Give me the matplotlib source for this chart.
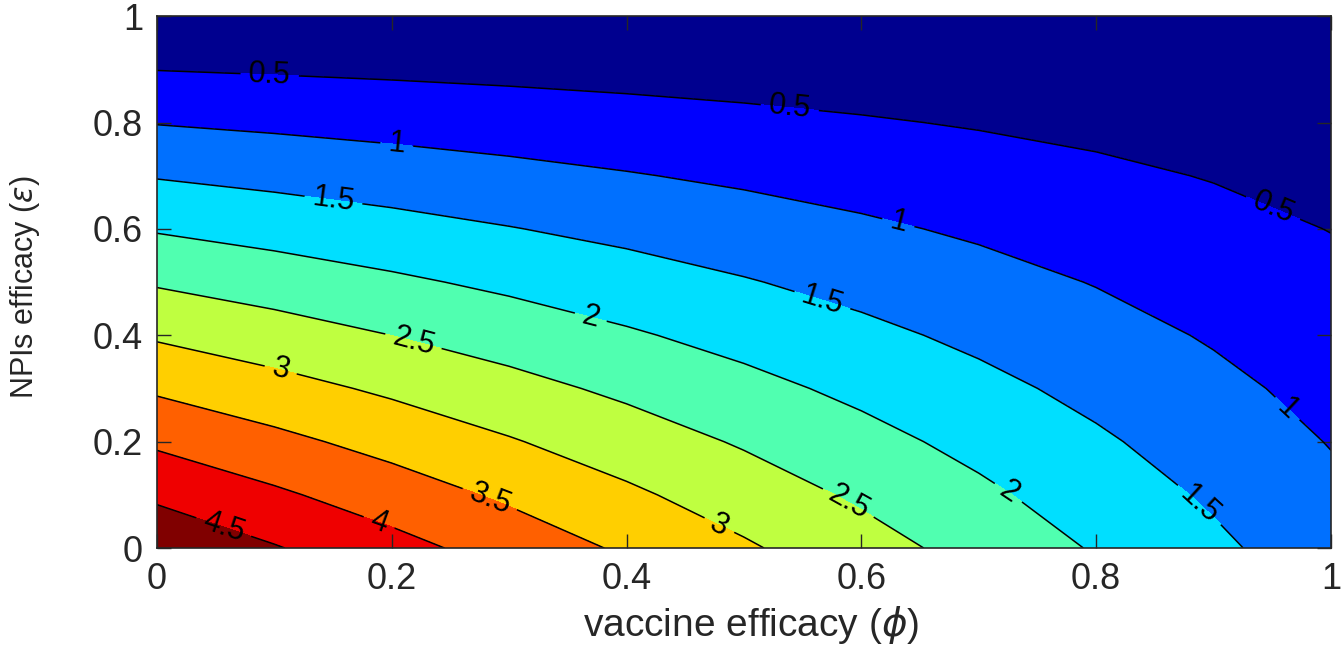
import matplotlib
matplotlib.use("Agg")
import matplotlib.pyplot as plt
import numpy as np

plt.rcParams['font.family'] = ['Liberation Sans', 'DejaVu Sans']
plt.rcParams['mathtext.fontset'] = 'dejavusans'

# grid
phi = [0.0, 0.1, 0.2, 0.3, 0.4, 0.5, 0.6, 0.7, 0.8, 0.9, 1.0]   # vaccine efficacy
eps = [0.0, 0.1, 0.2, 0.3, 0.4, 0.5, 0.6, 0.7, 0.8, 0.9, 1.0]   # NPIs efficacy

# values: one row per eps, one column per phi
R = [
    [4.900, 4.533, 4.165, 3.798, 3.430, 3.063, 2.695, 2.328, 1.960, 1.593, 1.225],
    [4.410, 4.079, 3.749, 3.418, 3.087, 2.756, 2.426, 2.095, 1.764, 1.433, 1.103],
    [3.920, 3.626, 3.332, 3.038, 2.744, 2.450, 2.156, 1.862, 1.568, 1.274, 0.980],
    [3.430, 3.173, 2.916, 2.658, 2.401, 2.144, 1.887, 1.629, 1.372, 1.115, 0.858],
    [2.940, 2.720, 2.499, 2.279, 2.058, 1.838, 1.617, 1.397, 1.176, 0.956, 0.735],
    [2.450, 2.266, 2.083, 1.899, 1.715, 1.531, 1.348, 1.164, 0.980, 0.796, 0.613],
    [1.960, 1.813, 1.666, 1.519, 1.372, 1.225, 1.078, 0.931, 0.784, 0.637, 0.490],
    [1.470, 1.360, 1.250, 1.139, 1.029, 0.919, 0.809, 0.698, 0.588, 0.478, 0.368],
    [0.980, 0.907, 0.833, 0.760, 0.686, 0.613, 0.539, 0.466, 0.392, 0.319, 0.245],
    [0.490, 0.453, 0.417, 0.380, 0.343, 0.306, 0.270, 0.233, 0.196, 0.159, 0.123],
    [0.000, 0.000, 0.000, 0.000, 0.000, 0.000, 0.000, 0.000, 0.000, 0.000, 0.000],
]

fill_levels = [0, 0.5, 1, 1.5, 2, 2.5, 3, 3.5, 4, 4.5, 5]
line_levels = [0.5, 1, 1.5, 2, 2.5, 3, 3.5, 4, 4.5]

# jet-like band colours (matlab jet(64) picks)
band_colors = ['#00008f', '#0000ff', '#0070ff', '#00dfff', '#50ffb0',
               '#bfff40', '#ffcf00', '#ff6000', '#ef0000', '#800000']

# where the inline labels sit
label_pos = [(0.096, 0.885), (0.539, 0.827), (0.95, 0.635),
             (0.204, 0.752), (0.631, 0.607), (0.962, 0.26),
             (0.15, 0.648), (0.566, 0.46), (0.888, 0.081),
             (0.369, 0.429), (0.725, 0.103),
             (0.217, 0.376), (0.589, 0.085),
             (0.105, 0.331), (0.478, 0.038),
             (0.29, 0.128), (0.188, 0.04), (0.055, 0.028)]

fig = plt.figure(figsize=(13.41, 6.47), dpi=100)
ax = fig.add_axes([0.117, 0.153, 0.8755, 0.822])

X, Y = np.meshgrid(phi, eps)
Z = np.array(R)
ax.contourf(X, Y, Z, levels=fill_levels, colors=band_colors)
cs = ax.contour(X, Y, Z, levels=line_levels, colors='k', linewidths=1.1)
ax.clabel(cs, inline=True, fontsize=22, fmt='%g', manual=label_pos,
          inline_spacing=8)

ax.set_xlim(0, 1)
ax.set_ylim(0, 1)
ticks = [0, 0.2, 0.4, 0.6, 0.8, 1]
ax.set_xticks(ticks)
ax.set_yticks(ticks)
ax.set_xticklabels(['0', '0.2', '0.4', '0.6', '0.8', '1'])
ax.set_yticklabels(['0', '0.2', '0.4', '0.6', '0.8', '1'])

gray = '#262626'
ax.tick_params(direction='in', length=10, width=1, colors=gray,
               labelsize=26, top=True, right=True, pad=10)
for s in ax.spines.values():
    s.set_color(gray)
    s.set_linewidth(1.2)

ax.set_xlabel(r'vaccine efficacy ($\phi$)', fontsize=28, color=gray)
ax.xaxis.set_label_coords(0.506, -0.105)
ax.set_ylabel(r'NPIs efficacy ($\epsilon$)', fontsize=22, color=gray)
ax.yaxis.set_label_coords(-0.098, 0.49)

fig.savefig('out.png', dpi=100)
